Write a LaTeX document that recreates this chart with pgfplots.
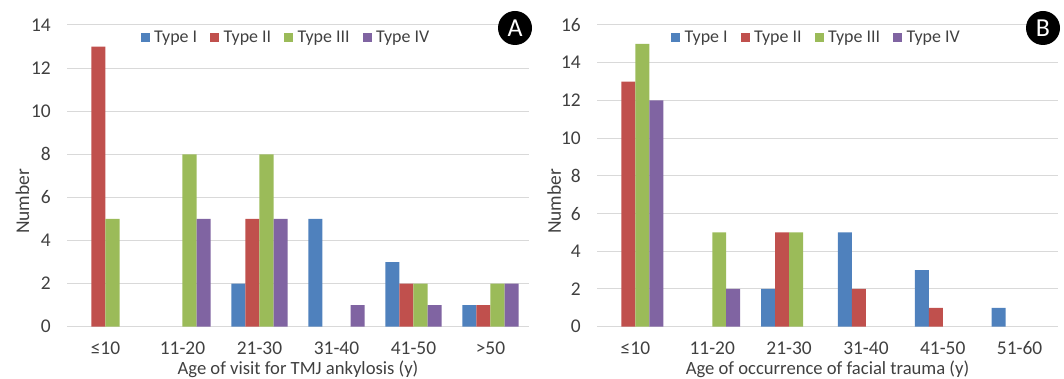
\documentclass[border=0pt]{standalone}
\usepackage{pgfplots}
\pgfplotsset{compat=1.18}
\usepackage{fontspec}
\setmainfont{Carlito}
\definecolor{cI}{HTML}{4F81BD}
\definecolor{cII}{HTML}{C0504D}
\definecolor{cIII}{HTML}{9BBB59}
\definecolor{cIV}{HTML}{8064A2}
\definecolor{gridc}{HTML}{D9D9D9}
\definecolor{txt}{HTML}{404040}
\newcommand{\fs}{\fontsize{18}{21.6}\selectfont}
\newcommand{\fst}{\fontsize{19.5}{23}\selectfont}
\newcommand{\fsl}{\fontsize{18.7}{22}\selectfont}
\pgfplotsset{
  panel/.style={
    scale only axis,
    height=301.7bp,
    anchor=south west,
    ymin=0,
    xmin=-0.5, xmax=5.5,
    xtick={0,1,2,3,4,5},
    axis line style={draw=none},
    major tick length=0pt,
    ymajorgrids,
    grid style={color=gridc, line width=1bp},
    tick label style={text=txt, font=\fst},
    label style={font=\fst},
    x label style={font=\fsl},
    /pgf/number format/assume math mode=true,
    xticklabel style={anchor=center, yshift=-21.5bp},
    yticklabel style={anchor=east, inner xsep=0pt, xshift=-16bp},
    x label style={at={(axis description cs:0.5,-0.140)}, anchor=center, text=txt},
    y label style={anchor=center, rotate=0, text=txt},
    legend columns=4,
    legend style={draw=none, fill=none, anchor=center,
      font=\fs, text=txt,
      nodes={inner sep=1bp},
      /tikz/every odd column/.append style={column sep=3.5bp},
      /tikz/every even column/.append style={column sep=12bp}},
    legend image code/.code={\fill[##1] (0bp,-4.5bp) rectangle (9bp,4.5bp);},
    bar width=0.182,
    every axis plot/.append style={ybar, draw=none},
  }
}
\begin{document}
\fs
\begin{tikzpicture}
\useasboundingbox (0,0) rectangle (1064bp,379bp);
% Panel A
\begin{axis}[panel, at={(67bp,52.3bp)}, width=462bp, ymax=14, ytick={0,2,...,14},
  xticklabels={≤10,11-20,21-30,31-40,41-50,>50},
  xlabel={Age of visit for TMJ ankylosis (y)}, ylabel={Number},
  y label style={at={(axis description cs:-0.0965,0.415)}},
  legend style={at={(0.473,0.958)}}]
\addplot[fill=cI, bar shift=-0.273] coordinates {(2,2) (3,5) (4,3) (5,1)};
\addplot[fill=cII, bar shift=-0.091] coordinates {(0,13) (2,5) (4,2) (5,1)};
\addplot[fill=cIII, bar shift=0.091] coordinates {(0,5) (1,8) (2,8) (4,2) (5,2)};
\addplot[fill=cIV, bar shift=0.273] coordinates {(1,5) (2,5) (3,1) (4,1) (5,2)};
\legend{Type I,Type II,Type III,Type IV}
\end{axis}
% Panel B
\begin{axis}[panel, at={(597bp,52.3bp)}, width=461bp, ymax=16, ytick={0,2,...,16},
  xticklabels={≤10,11-20,21-30,31-40,41-50,51-60},
  xlabel={Age of occurrence of facial trauma (y)}, ylabel={Number},
  y label style={at={(axis description cs:-0.093,0.415)}},
  legend style={at={(0.475,0.958)}}]
\addplot[fill=cI, bar shift=-0.273] coordinates {(2,2) (3,5) (4,3) (5,1)};
\addplot[fill=cII, bar shift=-0.091] coordinates {(0,13) (2,5) (3,2) (4,1)};
\addplot[fill=cIII, bar shift=0.091] coordinates {(0,15) (1,5) (2,5)};
\addplot[fill=cIV, bar shift=0.273] coordinates {(0,12) (1,2)};
\legend{Type I,Type II,Type III,Type IV}
\end{axis}
\node[circle, fill=black, text=white, minimum size=34bp, inner sep=0pt,
  font=\fontsize{26}{26}\selectfont] at (515bp,351bp) {A};
\node[circle, fill=black, text=white, minimum size=34bp, inner sep=0pt,
  font=\fontsize{26}{26}\selectfont] at (1043bp,351bp) {B};
\end{tikzpicture}
\end{document}
